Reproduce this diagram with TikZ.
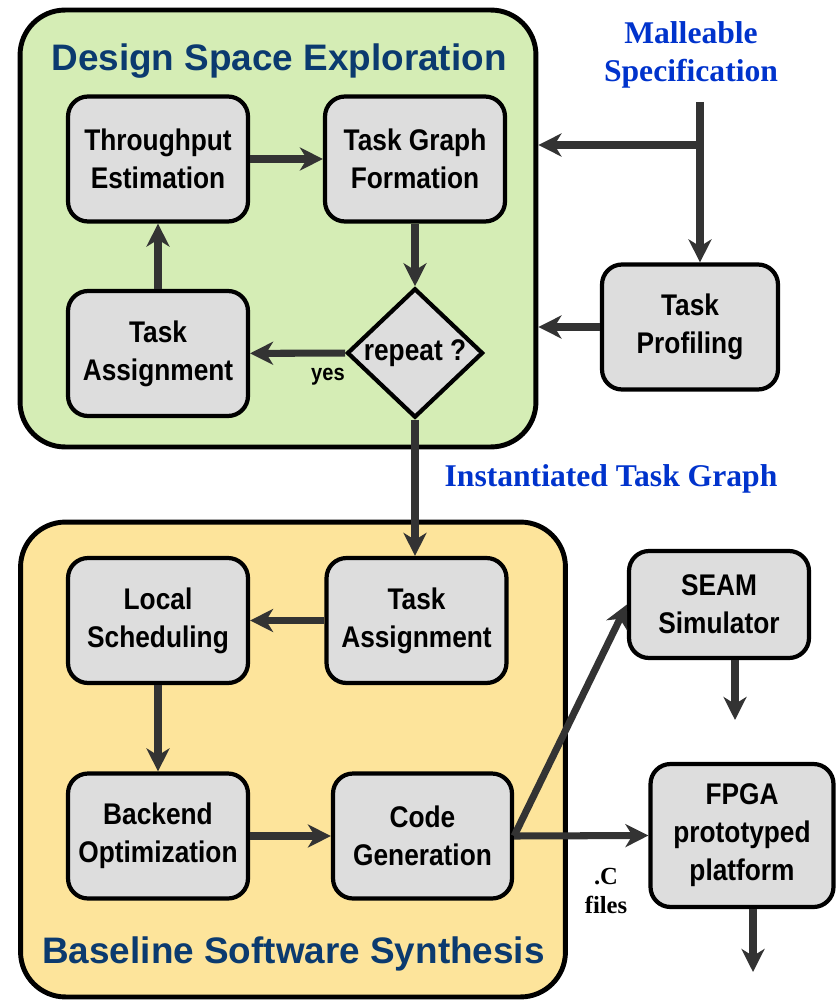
\documentclass[tikz,border=0pt]{standalone}
\usepackage{fontspec}
\setmainfont{Liberation Sans}
\newfontfamily\boxfont[FakeStretch=0.88]{Liberation Sans}
\newfontfamily\notefont{Liberation Serif}
\usetikzlibrary{shapes.geometric,arrows.meta}
\definecolor{dsegreen}{HTML}{D5EDB5}
\definecolor{bssyellow}{HTML}{FDE49B}
\definecolor{boxgray}{HTML}{DDDDDD}
\definecolor{titlenavy}{HTML}{0B3A6F}
\definecolor{noteblue}{HTML}{0033CC}
\definecolor{arrowgray}{HTML}{333333}

\begin{document}
\begin{tikzpicture}[
    x=0.02cm, y=-0.02cm,
    panel/.style={rectangle, rounded corners=0.9cm, draw=black, line width=2.8pt},
    paneltitle/.style={text=titlenavy, font=\bfseries\fontsize{21}{25}\selectfont},
    stage/.style={rectangle, rounded corners=0.4cm, draw=black, line width=2.4pt, fill=boxgray, align=center, minimum width=3.6cm, minimum height=2.5cm, font=\boxfont\fontsize{17}{21.6}\selectfont\bfseries},
    decision/.style={diamond, draw=black, line width=2.4pt, fill=boxgray, inner sep=0pt, minimum width=2.72cm, minimum height=2.48cm, font=\boxfont\fontsize{17}{21.6}\selectfont\bfseries},
    note/.style={text=noteblue, align=center, font=\notefont\bfseries\fontsize{18}{21.6}\selectfont},
    small/.style={align=center, font=\boxfont\bfseries\fontsize{13}{14}\selectfont},
    arrow/.style={line width=4pt, draw=arrowgray, -{Stealth[length=0.46cm, width=0.46cm, inset=0.14cm]}}
]
\useasboundingbox (0,0) rectangle (835,1000);

% --- Panels ---
\node (dse) at (278,228.5) [panel, fill=dsegreen, minimum width=10.32cm, minimum height=8.74cm] {};
\node (dsetitle) at (279,61) [paneltitle] {Design Space Exploration};
\node (bss) at (293,759.5) [panel, fill=bssyellow, minimum width=10.9cm, minimum height=9.5cm] {};
\node (bsstitle) at (293.5,954) [paneltitle] {Baseline Software Synthesis};

% --- Nodes ---
% Design space exploration
\node (thr) at (158,159) [stage] {Throughput\\Estimation};
\node (tgf) at (415,159) [stage] {Task Graph\\Formation};
\node (ta1) at (158,353.5) [stage] {Task\\Assignment};
\node (rep) at (415,353) [decision] {repeat ?};
\node (yes) at (328,377) [small] {yes};

% Inputs on the right
\node (spec) at (691,55) [note] {Malleable\\Specification};
\node (prof) at (690,327) [stage, minimum width=3.52cm] {Task\\Profiling};
\coordinate (spectop) at (700,102);
\coordinate (split) at (700,145);

% Baseline software synthesis
\node (sched) at (158,620.5) [stage] {Local\\Scheduling};
\node (ta2) at (416.5,620.5) [stage] {Task\\Assignment};
\node (back) at (158,836) [stage] {Backend\\Optimization};
\node (code) at (422.5,836) [stage, minimum width=3.58cm] {Code\\Generation};
\node (inst) at (611,479) [note] {Instantiated Task Graph};

% Targets
\node (seam) at (719,604.5) [stage, minimum width=3.6cm, minimum height=2.14cm] {SEAM\\Simulator};
\node (fpga) at (742,835.5) [stage, minimum width=3.66cm, minimum height=2.86cm] {FPGA\\prototyped\\platform};
\node (cfiles) at (606,891) [note, font=\notefont\bfseries\fontsize{14}{16}\selectfont, text=black] {.C\\files};
\coordinate (simout) at (735,720);
\coordinate (fpgaout) at (753,972);

% --- Edges ---
\draw [arrow] (thr) -- (tgf);
\draw [arrow] (tgf) -- (rep);
\draw [arrow] (rep) -- (ta1);
\draw [arrow] (ta1) -- (thr);

% Specification and profiling
\draw [line width=4pt, draw=arrowgray] (spectop) -- (split);
\draw [arrow] (split) -- (split |- prof.north);
\draw [arrow] (split) -- (split -| dse.east);
\draw [arrow] (prof) -- (prof -| dse.east);

% Into synthesis
\draw [arrow] (rep.south) -- (rep.south |- ta2.north);
\draw [arrow] (ta2) -- (sched);
\draw [arrow] (sched) -- (back);
\draw [arrow] (back) -- (code);
\draw [arrow] (code.east) -- (seam.west);
\draw [arrow] (code.east) -- (fpga.west);
\draw [arrow] (simout |- seam.south) -- (simout);
\draw [arrow] (fpgaout |- fpga.south) -- (fpgaout);

\end{tikzpicture}
\end{document}
